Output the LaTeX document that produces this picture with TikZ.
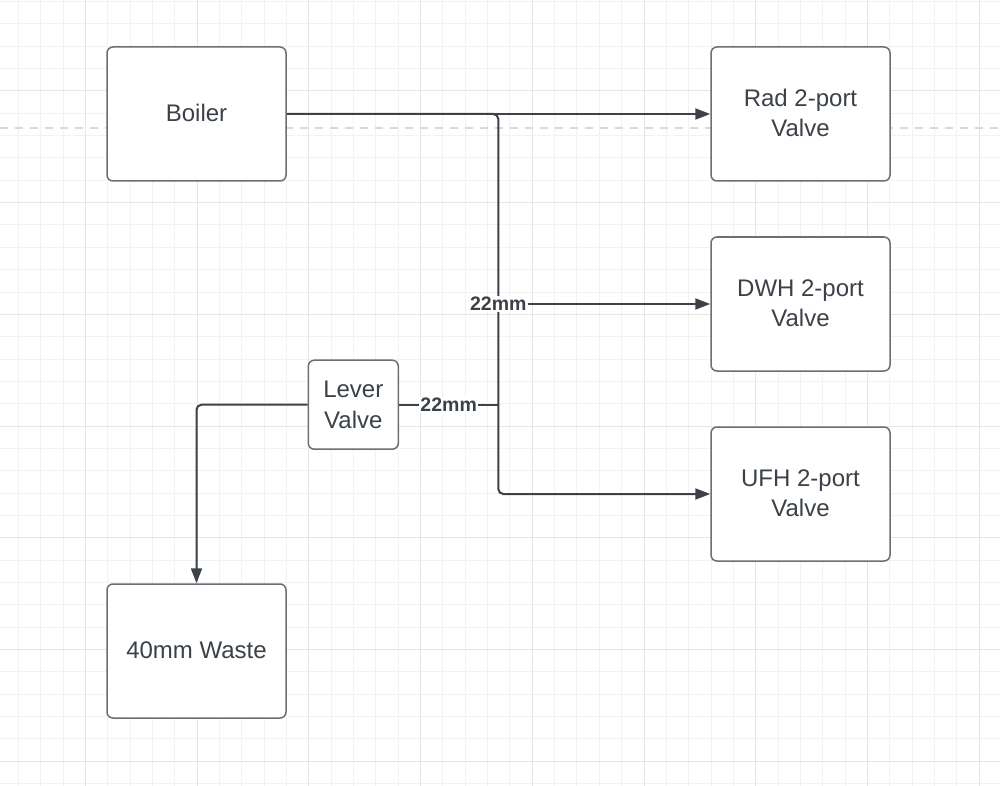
\documentclass[tikz,border=0pt]{standalone}
\usepackage{fontspec}
\setmainfont{Liberation Sans}
\usetikzlibrary{arrows.meta}
\definecolor{ink}{HTML}{3B4148}
\definecolor{boxline}{HTML}{6A6E75}
\definecolor{pipeline}{HTML}{3D4148}
\definecolor{gridminor}{HTML}{F2F2F2}
\definecolor{gridmajor}{HTML}{E6E6E6}
\definecolor{guide}{HTML}{D8D8D8}

\begin{document}
\begin{tikzpicture}[x=1pt,y=-1pt,
   unit/.style={draw=boxline,line width=1.5pt,rounded corners=6pt,fill=white,text=ink,
     align=center,inner sep=0pt,minimum width=179pt,minimum height=134pt,
     font=\fontsize{24}{30.5}\selectfont},
   pipe/.style={draw=pipeline,line width=2pt},
   flow/.style={pipe,-{Triangle[length=15pt,width=11pt]}},
   size/.style={fill=white,text=ink,inner xsep=1pt,inner ysep=1pt,
     font=\fontsize{19.5}{22}\selectfont\bfseries}]
   \useasboundingbox (0,0) rectangle (1000,786);
   \fill[white] (0,0) rectangle (1000,786);
   % background grid
   \begin{scope}
    \clip (0,0) rectangle (1000,786);
    \foreach \i in {0,...,45} {
     \draw[gridminor,line width=1pt] ({-3.86+22.34*\i},0) -- ++(0,786);
    }
    \foreach \j in {0,...,35} {
     \draw[gridminor,line width=1pt] (0,{1.6+22.34*\j}) -- ++(1000,0);
    }
    \foreach \i in {0,...,8} {
     \draw[gridmajor,line width=1pt] ({85.5+111.7*\i},0) -- ++(0,786);
    }
    \foreach \j in {0,...,6} {
     \draw[gridmajor,line width=1pt] (0,{91+111.7*\j}) -- ++(1000,0);
    }
    \draw[guide,line width=2pt,dash pattern=on 8pt off 7pt] (0,128) -- (1000,128);
   \end{scope}

   \node[unit] (boiler) at (196.5,114) {\raisebox{2pt}{Boiler}};
   \node[unit] (rad)    at (800.5,114) {\raisebox{2pt}{Rad 2-port}\\\raisebox{2pt}{Valve}};
   \node[unit] (dwh)    at (800.5,304) {\raisebox{2pt}{DWH 2-port}\\\raisebox{2pt}{Valve}};
   \node[unit] (ufh)    at (800.5,494) {\raisebox{2pt}{UFH 2-port}\\\raisebox{2pt}{Valve}};
   \node[unit,minimum width=90pt,minimum height=89pt] (lever) at (353.3,404.7) {Lever\\Valve};
   \node[unit] (waste)  at (196.5,651) {\raisebox{2pt}{40mm Waste}};

   \coordinate (drop) at (498.3,114);
   \draw[flow] (boiler.east) -- (rad.west);
   \draw[flow,rounded corners=5pt] (boiler.east) -- (drop) |- (ufh.west);
   \node[size] (tap) at (drop |- dwh.west) {22mm};
   \draw[flow] (tap.east) -- (dwh.west);
   \draw[pipe] (lever.east) -- node[size]{22mm} (lever.east -| drop);
   \draw[flow,rounded corners=5pt] (lever.west) -| (waste.north);
  \end{tikzpicture}
\end{document}
